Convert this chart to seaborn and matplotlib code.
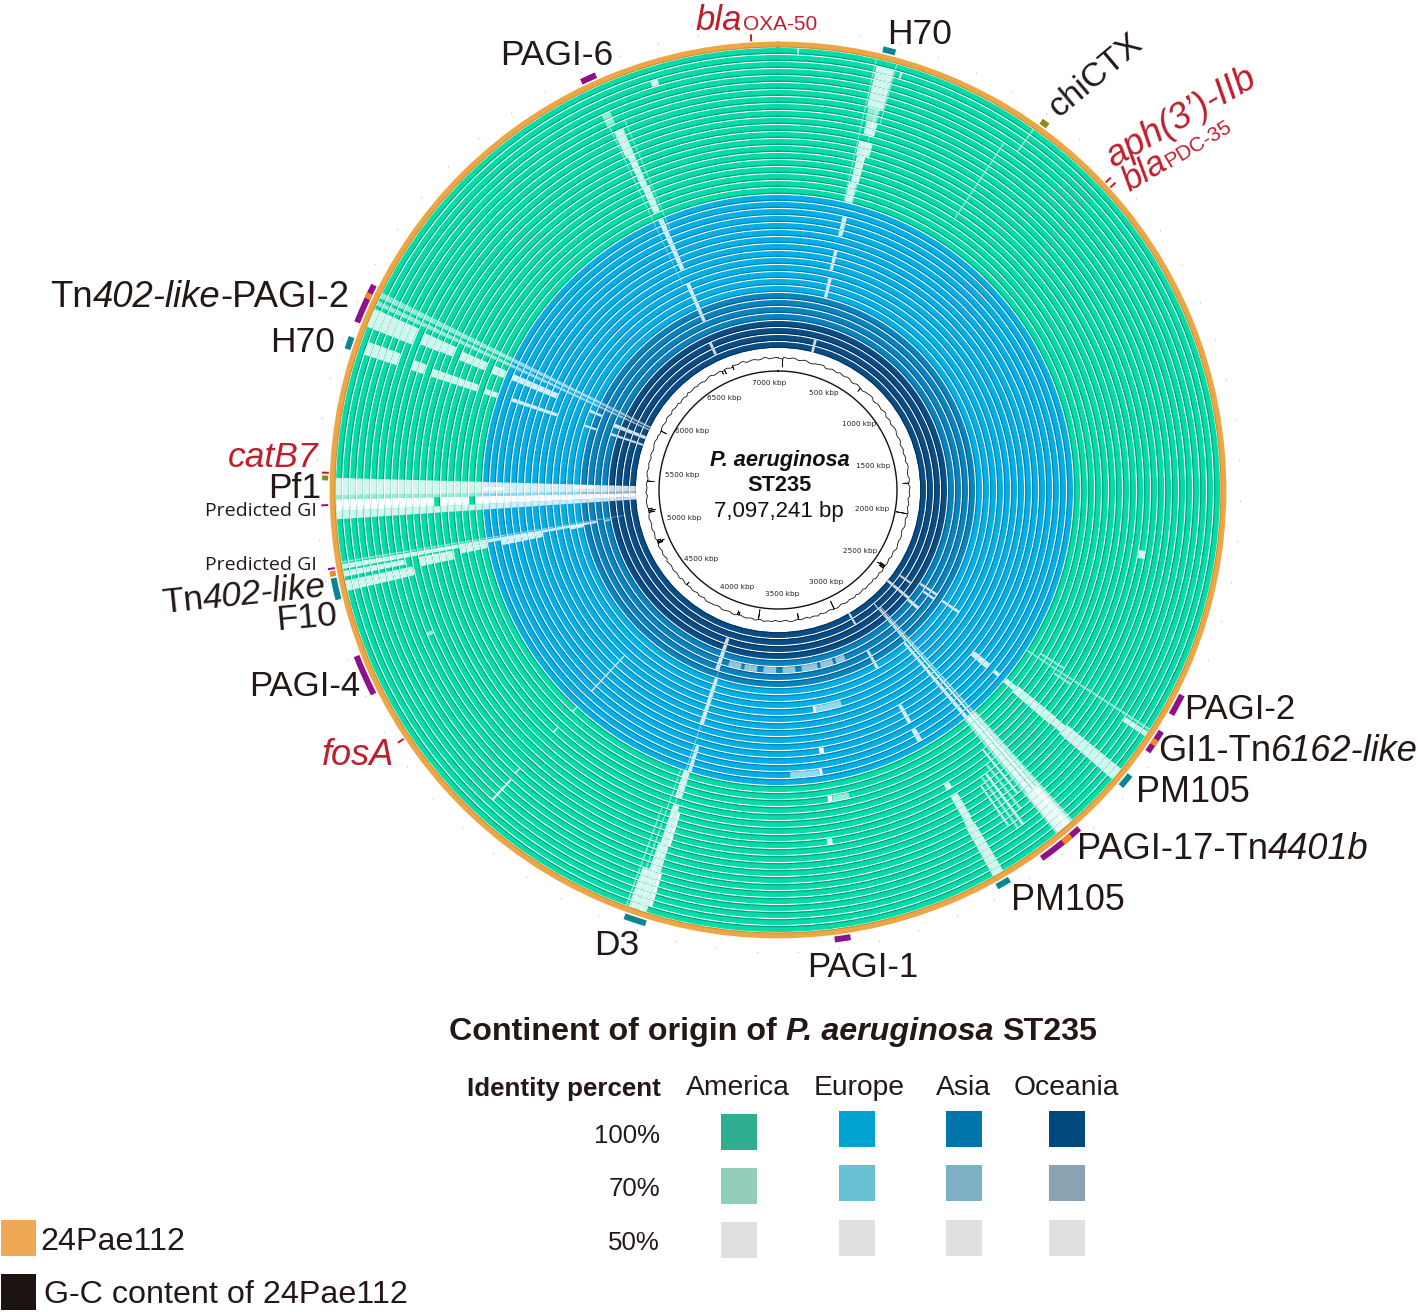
import numpy as np
import pandas as pd
import seaborn as sns
import matplotlib.pyplot as plt
from matplotlib.patches import Rectangle

sns.set_theme(style='white')
plt.rcParams['font.family'] = ['Liberation Sans', 'DejaVu Sans']

GENOME = 7097.241

# rings, outermost first
continents = ['America', 'Europe', 'Asia', 'Oceania']
ring_counts = [21, 14, 4, 4]
ring_colors = ['#02DCA6', '#06AEE3', '#0A82BC', '#0A4D84']
ring_edges = ['#0A9C80', '#0084B8', '#045E92', '#05325C']

# gaps: (start kbp, end kbp, first ring, last ring, identity percent)
gaps_h70_top = [(258, 305, 1, 6, 50), (262, 296, 7, 8, 70), (266, 300, 9, 10, 50),
                (258, 302, 12, 13, 50), (262, 290, 14, 17, 50), (256, 284, 18, 20, 50),
                (262, 280, 23, 25, 50), (260, 276, 28, 30, 50), (264, 282, 32, 34, 50),
                (266, 286, 41, 42, 50), (322, 327, 1, 1, 0), (50, 54, 0, 0, 50),
                (252, 255, 0, 20, 70), (306, 309, 0, 8, 70), (285, 288, 7, 20, 70)]
gaps_pagi6 = [(6755, 6775, 2, 2, 50), (6600, 6625, 4, 5, 70), (6612, 6640, 7, 10, 50),
              (6618, 6640, 11, 15, 50), (6620, 6645, 16, 19, 50), (6625, 6645, 21, 28, 50),
              (6622, 6642, 31, 36, 50), (6600, 6620, 40, 41, 50), (6605, 6608, 6, 30, 70),
              (6652, 6655, 6, 22, 70)]
gaps_pf1 = [(5310, 5354, 0, 42, 50), (5269, 5299, 0, 13, 0), (5269, 5299, 15, 18, 0),
            (5269, 5299, 20, 42, 0), (5299, 5310, 0, 42, 70), (5248, 5269, 0, 42, 50),
            (5322, 5335, 21, 23, 0), (5330, 5350, 34, 36, 50)]
gaps_tn402_low = [(5120, 5133, 0, 36, 50), (5100, 5115, 0, 8, 50), (5063, 5090, 0, 9, 50),
                  (5085, 5115, 11, 15, 50), (5100, 5120, 17, 20, 50), (5100, 5122, 23, 28, 50),
                  (5110, 5125, 33, 34, 50), (5118, 5130, 38, 38, 70), (5136, 5140, 0, 40, 70)]
gaps_tn402_up = [(5750, 5800, 0, 6, 50), (5830, 5845, 0, 42, 70), (5810, 5822, 0, 42, 70),
                 (5760, 5795, 8, 10, 50), (5762, 5795, 11, 12, 50), (5760, 5790, 14, 17, 50),
                 (5760, 5790, 19, 20, 50), (5765, 5790, 22, 28, 50), (5765, 5780, 34, 35, 50),
                 (5735, 5760, 38, 42, 50)]
gaps_h70_left = [(5680, 5715, 1, 5, 50), (5680, 5710, 8, 9, 50), (5680, 5705, 11, 12, 50),
                 (5680, 5705, 13, 17, 50), (5680, 5700, 19, 20, 50), (5685, 5700, 23, 29, 50),
                 (5680, 5692, 34, 35, 50), (5680, 5695, 38, 42, 50)]
gaps_pagi17 = [(2725, 2780, 0, 20, 70), (2735, 2775, 0, 6, 50), (2742, 2750, 0, 40, 0),
               (2730, 2738, 0, 40, 70), (2755, 2770, 7, 20, 50), (2760, 2775, 21, 34, 50),
               (2752, 2760, 35, 41, 50), (2830, 2838, 4, 12, 50), (2848, 2855, 4, 12, 70),
               (2866, 2872, 5, 11, 50), (2810, 2818, 6, 13, 70), (2790, 2797, 8, 15, 50)]
gaps_pm105_low = [(2945, 2975, 0, 7, 50), (2948, 2972, 8, 8, 50), (2945, 2970, 9, 12, 50),
                  (2950, 2970, 14, 14, 50), (2957, 2977, 22, 23, 50), (2958, 2975, 25, 27, 50),
                  (2965, 2982, 34, 36, 50), (2950, 2966, 41, 42, 50)]
gaps_pm105_up = [(2545, 2580, 0, 9, 50), (2550, 2575, 10, 11, 50), (2548, 2578, 12, 18, 50),
                 (2552, 2572, 19, 20, 50), (2555, 2570, 22, 22, 50), (2550, 2575, 24, 26, 50),
                 (2555, 2575, 37, 38, 50), (2545, 2565, 39, 42, 50)]
gaps_gi1 = [(2418, 2424, 0, 20, 70), (2428, 2442, 0, 3, 50), (2438, 2452, 32, 34, 50),
            (2455, 2470, 36, 37, 50), (2458, 2472, 40, 41, 50), (2425, 2440, 36, 38, 50),
            (2432, 2440, 13, 15, 70), (2400, 2408, 15, 18, 70)]
gaps_d3 = [(3880, 3890, 1, 5, 0), (3890, 3938, 0, 5, 50), (3885, 3918, 6, 9, 50),
           (3880, 3890, 10, 14, 0), (3890, 3912, 10, 15, 50), (3890, 3915, 17, 20, 50),
           (3885, 3900, 21, 24, 50), (3895, 3915, 28, 34, 50), (3905, 3930, 36, 40, 50),
           (3925, 3929, 0, 20, 70), (3942, 3946, 0, 14, 70), (3905, 3909, 0, 36, 70)]
gaps_pagi1 = [(3352, 3372, 25, 25, 0), (3372, 3384, 22, 22, 0), (3385, 3500, 22, 22, 70),
              (3355, 3370, 31, 31, 0), (3223, 3355, 31, 31, 70), (3352, 3368, 18, 18, 0),
              (3290, 3350, 18, 18, 70), (3375, 3392, 12, 12, 50), (3120, 3180, 37, 37, 70),
              (3200, 3280, 37, 37, 70), (3300, 3400, 37, 37, 70), (3440, 3520, 37, 37, 70),
              (3560, 3640, 37, 37, 70), (3680, 3760, 37, 37, 70), (3780, 3860, 37, 37, 70)]
gaps_thin = [(4387, 4393, 3, 6, 50), (4391, 4396, 8, 8, 50), (4390, 4396, 16, 16, 50),
             (4390, 4396, 20, 20, 50), (4390, 4396, 24, 30, 50), (4876, 4888, 9, 9, 70),
             (1960, 1985, 10, 10, 50), (694, 698, 0, 3, 70), (650, 654, 4, 16, 70)]
all_gaps = (gaps_h70_top + gaps_pagi6 + gaps_pf1 + gaps_tn402_low + gaps_tn402_up
            + gaps_h70_left + gaps_pagi17 + gaps_pm105_low + gaps_pm105_up + gaps_gi1
            + gaps_d3 + gaps_pagi1 + gaps_thin)

# annotated regions on the outside
mark_names = ['PAGI-6', 'H70', 'chiCTX', 'PAGI-2', 'GI1', 'PM105', 'PAGI-17', 'PM105', 'PAGI-1',
              'D3', 'PAGI-4', 'F10', 'Pf1', 'H70', 'PAGI-2b', 'Tn4401b', 'Tn6162', 'Tn402b', 'Tn402']
mark_start = [6590, 264, 700, 2305, 2409, 2543, 2727, 2943, 3367,
              3883, 4795, 5047, 5347, 5680, 5751, 2755, 2433, 5815, 5106]
mark_end = [6630, 296, 720, 2360, 2470, 2579, 2847, 2979, 3407,
            3939, 4899, 5102, 5359, 5712, 5853, 2780, 2449, 5830, 5120]
mark_kind = ['gi', 'phage', 'ice', 'gi', 'gi', 'phage', 'gi', 'phage', 'gi',
             'phage', 'gi', 'phage', 'ice', 'phage', 'gi', 'tn', 'tn', 'tn', 'tn']
kind_colors = {'gi': '#8E1189', 'phage': '#0B8593', 'ice': '#8A8A14', 'tn': '#F58A1F'}
resist_kbp = [7030, 923, 940, 4660, 5366]
predicted_kbp = [5285, 5126]
scale_ticks = list(range(0, 7100, 100))

# position scale labels
kbp_labels = [500, 1000, 1500, 2000, 2500, 3000, 3500, 4000, 4500, 5000, 5500, 6000, 6500, 7000]
kbp_label_r = [107, 105, 98, 96, 102, 104, 104, 105, 103, 98, 97, 104, 107, 107]

# G-C content deviation, every 50 kbp from 0, then the midpoints between them
gc_dev = [1.2, 2.0, 0.8, 1.5, 0.6, 1.1, -0.4, 0.7, 1.3, 0.2, 0.9, 1.6, 0.3, 1.0, -0.3, 0.5,
          -0.8, 0.6, 1.2, -0.2, 0.4, 0.9, -0.5, 0.8, 0.2, 1.1, -0.3, 0.6, 0.1, -0.6, 0.7, 1.0,
          0.3, -0.4, 0.5, 1.2, 0.2, -0.7, 0.8, 0.4, 1.1, 0.0, 0.6, -0.5, 0.9, 0.3, 1.3, 0.1,
          -0.6, 0.7, 0.4, -0.3, 1.0, 0.5, 0.2, -0.5, 0.8, 1.1, -0.2, 0.6, 0.3, 0.9, -0.4, 0.5,
          1.2, 0.1, -0.6, 0.7, 0.4, 1.0, -0.3, 0.2, 0.8, 0.5, -0.5, 1.1, 0.3, 0.6, -0.2, 0.9,
          0.1, 0.7, -0.4, 0.5, 1.2, 0.3, -0.6, 0.8, 0.4, 0.1, 1.0, -0.3, 0.6, 0.2, -0.7, 0.9,
          0.5, 0.3, 1.1, -0.4, 0.7, 0.2, 0.6, -0.5, 0.9, 0.4, 1.2, 0.1, -0.3, 0.8, 0.5, 1.0,
          -0.2, 0.6, 0.3, 1.3, 0.7, -0.4, 1.0, 0.2, 0.8, 1.4, 0.3, -0.5, 0.9, 1.5, 0.6, 0.2,
          1.1, 0.4, 1.7, 0.5, -0.3, 1.0, 1.6, 0.7, 2.1, 0.9, 1.4, 0.6, 1.8, 1.0]
gc_mid = [0.4, 1.1, 1.9, 0.2, 1.4, -0.2, 0.6, 1.5, -0.5, 1.3, 0.1, 0.8, 1.6, -0.6, 1.0, -0.4,
          0.3, 1.2, -0.7, 0.9, -0.3, 1.4, 0.2, -0.6, 1.1, -0.1, 0.9, -0.8, 0.7, 0.2, -0.5, 1.3,
          -0.3, 0.8, -0.6, 0.4, 1.0, -0.2, -0.6, 1.2, -0.4, 0.9, -0.7, 0.5, -0.2, 1.1, -0.4, 0.8,
          0.2, -0.5, 1.2, 0.6, -0.6, 0.1, 1.0, 0.4, -0.4, 0.3, 0.9, -0.6, 1.1, -0.2, 0.7, -0.5,
          0.3, 1.0, 0.2, -0.5, 1.1, -0.4, 0.8, -0.6, 0.3, 1.1, 0.4, -0.3, 0.9, -0.5, 1.0, -0.3,
          0.8, -0.5, 0.6, 1.1, -0.4, 0.9, 0.4, -0.2, 1.0, -0.5, 0.3, 0.8, -0.4, 1.1, 0.4, -0.2,
          1.0, -0.5, 0.2, 0.9, -0.3, 1.1, -0.4, 0.5, 1.3, -0.3, 0.2, 0.9, -0.5, 1.1, 0.1, 0.4,
          1.0, -0.3, 1.2, 0.2, -0.5, 0.9, 0.3, 1.5, -0.2, 0.5, 1.1, 0.7, -0.4, 0.3, 1.4, 1.0,
          -0.1, 1.6, 0.2, 1.2, 0.8, -0.2, 0.9, 1.9, 0.3, 1.6, 0.5, 2.2, 0.4, 1.5]
# dips in the G-C curve
spike_kbp = [40, 769, 1715, 1980, 2470, 2482, 2495, 3050, 3371, 3718, 3890, 3904, 4416, 4850, 4861, 4875,
             5130, 5145, 5160, 5400, 5850, 6600, 6624, 6700]
spike_depth = [8, 4, 6, 11, 6, 8, 5, 8, 6, 10, 3, 4, 3, 5, 7, 4, 6, 7, 4, 7, 6, 3, 4, 3]

# legend
identity_labels = ['100%', '70%', '50%']
legend_colors = [['#2FAE92', '#00A2D0', '#0075AB', '#00497C'],
                 ['#93CDBC', '#68C0D3', '#7DB2C4', '#8AA3B3'],
                 ['#E0E0E0', '#E0E0E0', '#E0E0E0', '#E0E0E0']]
TEXT = '#231815'
RED = '#BE1E2D'
ORANGE = '#EDA645'
CX, CY, R = 778, 490, 500


def th(kbp):
    return 2 * np.pi * np.asarray(kbp, dtype=float) / GENOME


fig = plt.figure(figsize=(14.18, 13.12), dpi=100)
ax = fig.add_axes([(CX - R) / 1418, (1312 - CY - R) / 1312, 2 * R / 1418, 2 * R / 1312],
                  projection='polar')
ax.set_theta_zero_location('N')
ax.set_theta_direction(-1)
ax.set_rlim(0, R)
ax.set_axis_off()

# rings, one bar per genome
ring_color = []
ring_edge = []
for n, c, e in zip(ring_counts, ring_colors, ring_edges):
    ring_color += [c] * n
    ring_edge += [e] * n
ring_top = 442 - 7 * np.arange(len(ring_color))
ax.bar(np.pi, 5.8, width=2 * np.pi + 0.01, bottom=ring_top - 5.8, color=ring_color, linewidth=0, zorder=2)
ax.bar(np.pi, 1.1, width=2 * np.pi + 0.01, bottom=ring_top - 5.8, color=ring_edge, linewidth=0, zorder=2.1)

# unmatched regions
gaps = pd.DataFrame(all_gaps, columns=['start', 'end', 'ring_a', 'ring_b', 'identity'])
fade = {0: 1.0, 50: 0.82, 70: 0.55}
for _, g in gaps.iterrows():
    for i in range(int(g['ring_a']), int(g['ring_b']) + 1):
        t = 442 - 7 * i
        ax.bar(th((g['start'] + g['end']) / 2), 5.8, width=th(g['end'] - g['start']), bottom=t - 5.8,
               color='white', alpha=fade[g['identity']], linewidth=0, zorder=3)

# 24Pae112 reference ring
ax.bar(np.pi, 5.8, width=2 * np.pi + 0.01, bottom=442.6, color=ORANGE, linewidth=0, zorder=2)
ax.bar(np.pi, 0.9, width=2 * np.pi + 0.01, bottom=442.6, color='#C98A2E', linewidth=0, zorder=2.1)

# outside marks
marks = pd.DataFrame({'name': mark_names, 'start': mark_start, 'end': mark_end, 'kind': mark_kind})
ax.bar(th((marks['start'] + marks['end']) / 2), 6, width=th(marks['end'] - marks['start']), bottom=450,
       color=marks['kind'].map(kind_colors), linewidth=0, zorder=4)
ax.bar(th(resist_kbp), 7, width=th(5), bottom=449.5, color=RED, linewidth=0, zorder=4)
ax.bar(th(predicted_kbp), 7, width=th(5), bottom=450, color='#8E1189', linewidth=0, zorder=4)
ax.scatter(th(scale_ticks), [462] * len(scale_ticks), s=1.5, color='#D0D0D0', linewidth=0, zorder=1)

# inner circle and G-C content curve
circle_t = th(np.linspace(0, GENOME, 361))
ax.plot(circle_t, [119] * 361, color='#111111', lw=1.0, zorder=5)
gc_x = []
gc_y = []
for i, (a, b) in enumerate(zip(gc_dev, gc_mid)):
    gc_x += [i * 50.0, i * 50.0 + 25.0]
    gc_y += [131 + a, 131 + b]
for k, d in zip(spike_kbp, spike_depth):
    i = int(np.searchsorted(gc_x, k))
    gc_x[i:i] = [k - 1, k, k + 1]
    gc_y[i:i] = [131, 131 - d, 131]
gc_x.append(gc_x[0] + GENOME)
gc_y.append(gc_y[0])
sns.lineplot(x=th(gc_x), y=gc_y, sort=False, estimator=None, color='#111111', lw=0.6, ax=ax, zorder=5)
ax.set_axis_off()
ax.set_rlim(0, R)

for k, r in zip(kbp_labels, kbp_label_r):
    ax.text(th(k), r, f'{k} kbp', fontsize=5.2, family='DejaVu Sans', color='#222222',
            ha='center', va='center', zorder=6)

# overlay in image pixels for text and legend
ov = fig.add_axes([0, 0, 1, 1])
ov.set_xlim(0, 1418)
ov.set_ylim(1312, 0)
ov.set_axis_off()
ov.patch.set_alpha(0)
renderer = fig.canvas.get_renderer()


def runs(x, y, parts, rot=0, color=TEXT, size=25.5):
    # parts: (string, style, weight, size factor)
    for s, style, weight, f in parts:
        clean = s.strip()
        if s.startswith(' '):
            x += size * f * 0.39 * np.cos(np.radians(rot))
            y -= size * f * 0.39 * np.sin(np.radians(rot))
        t = ov.text(x, y, clean, fontsize=size * f, style=style, weight=weight, color=color,
                    ha='left', va='baseline', rotation=0, rotation_mode='anchor')
        w = t.get_window_extent(renderer).width
        t.set_rotation(rot)
        x += w * np.cos(np.radians(rot))
        y -= w * np.sin(np.radians(rot))
        if s.endswith(' '):
            x += size * f * 0.39 * np.cos(np.radians(rot))
            y -= size * f * 0.39 * np.sin(np.radians(rot))


def plain(x, y, s, **kw):
    runs(x, y, [(s, 'normal', 'normal', 1)], **kw)


plain(500, 65, 'PAGI-6')
plain(887, 44, 'H70')
plain(1058, 118, 'chiCTX', rot=40, size=24.5)
runs(696, 30, [('bla', 'italic', 'normal', 1), ('OXA-50', 'normal', 'normal', 0.6)], color=RED, size=25)
runs(1113, 168, [("aph(3’)-IIb", 'italic', 'normal', 1)], rot=30, color=RED, size=26.5)
runs(1129, 192, [('bla', 'italic', 'normal', 1), ('PDC-35', 'normal', 'normal', 0.6)], rot=31, color=RED, size=25)
runs(50, 307, [('Tn', 'normal', 'normal', 1), ('402-like', 'italic', 'normal', 1), ('-PAGI-2', 'normal', 'normal', 1)], size=26.3)
plain(270, 352, 'H70')
runs(228, 467, [('catB7', 'italic', 'normal', 1)], color=RED)
plain(268, 498, 'Pf1')
ov.text(317, 516, 'Predicted GI', fontsize=14, family='Open Sans', color=TEXT, ha='right', va='baseline')
ov.text(317, 570, 'Predicted GI', fontsize=14, family='Open Sans', color=TEXT, ha='right', va='baseline')
runs(163, 613, [('Tn', 'normal', 'normal', 1), ('402-like', 'italic', 'normal', 1)], rot=6)
plain(277, 630, 'F10', rot=5)
plain(249, 696, 'PAGI-4', size=25)
runs(322, 765, [('fosA', 'italic', 'normal', 1)], color=RED, size=26)
plain(594, 955, 'D3')
plain(807, 977, 'PAGI-1', size=25)
plain(1011, 910, 'PM105', size=25.8)
runs(1077, 859, [('PAGI-17-Tn', 'normal', 'normal', 1), ('4401b', 'italic', 'normal', 1)], size=26.1)
plain(1136, 802, 'PM105', size=25.8)
runs(1158, 761, [('GI1-Tn', 'normal', 'normal', 1), ('6162-like', 'italic', 'normal', 1)], size=26.1)
plain(1184, 719, 'PAGI-2', size=25)

# centre text
ov.text(780, 466, 'P. aeruginosa', fontsize=15.7, style='italic', weight='bold', color='#111111', ha='center', va='baseline')
ov.text(779, 491, 'ST235', fontsize=15.7, weight='bold', color='#111111', ha='center', va='baseline')
ov.text(779, 517, '7,097,241 bp', fontsize=16, color='#111111', ha='center', va='baseline')

# continent legend
runs(449, 1040, [('Continent of origin of ', 'normal', 'bold', 1), ('P. aeruginosa', 'italic', 'bold', 1),
                 (' ST235', 'normal', 'bold', 1)], size=23.2)
ov.text(661, 1096, 'Identity percent', fontsize=18.7, weight='bold', color=TEXT, ha='right', va='baseline')
for name, x in zip(continents, [738, 859, 963, 1066]):
    ov.text(x, 1095, name, fontsize=20.3, color=TEXT, ha='center', va='baseline')
for s, y in zip(identity_labels, [1143, 1196, 1250]):
    ov.text(660, y, s, fontsize=18.6, color=TEXT, ha='right', va='baseline')
col_x = [721, 839, 946, 1049]
col_y = [[1114, 1111, 1111, 1111], [1168, 1165, 1165, 1165], [1222, 1220, 1220, 1220]]
for row, ys in zip(legend_colors, col_y):
    for c, x, y in zip(row, col_x, ys):
        ov.add_patch(Rectangle((x, y), 36, 36, color=c, linewidth=0))

ov.add_patch(Rectangle((1, 1220), 35, 36, color='#EFA955', linewidth=0))
ov.add_patch(Rectangle((1, 1274), 35, 36, color='#1C1410', linewidth=0))
ov.text(40, 1250, '24Pae112', fontsize=23.2, color=TEXT, ha='left', va='baseline')
ov.text(44, 1303, 'G-C content of 24Pae112', fontsize=23.2, color=TEXT, ha='left', va='baseline')

fig.savefig('out.png', dpi=100, facecolor='white')
